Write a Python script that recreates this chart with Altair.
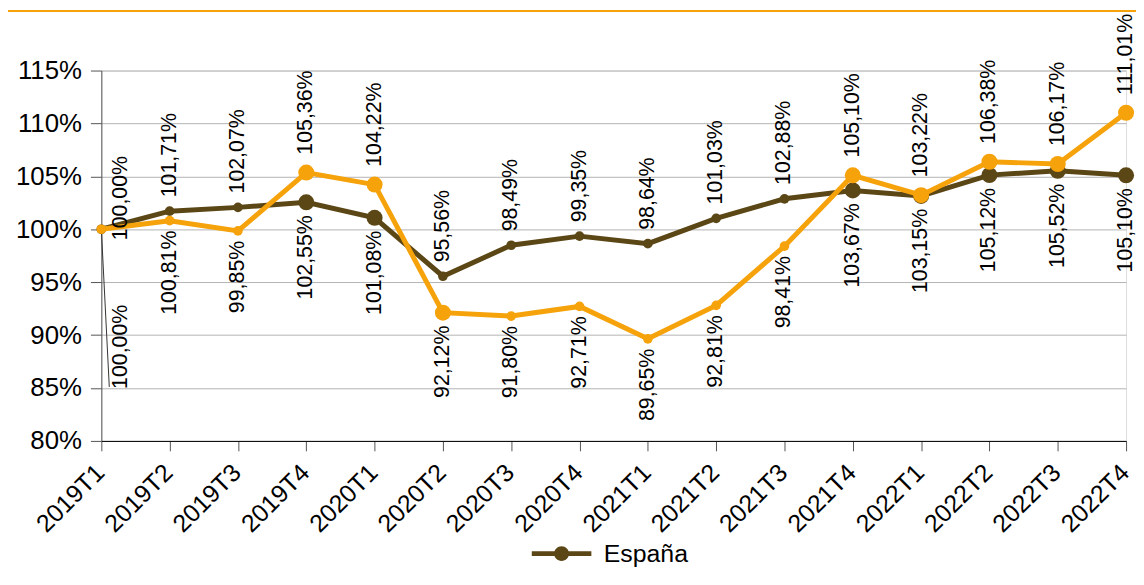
import altair as alt
import pandas as pd

# ---- data ----
quarters = ["2019T1", "2019T2", "2019T3", "2019T4",
            "2020T1", "2020T2", "2020T3", "2020T4",
            "2021T1", "2021T2", "2021T3", "2021T4",
            "2022T1", "2022T2", "2022T3", "2022T4"]
espana = [100.00, 101.71, 102.07, 102.55, 101.08, 95.56, 98.49, 99.35,
          98.64, 101.03, 102.88, 103.67, 103.15, 105.12, 105.52, 105.10]
region = [100.00, 100.81, 99.85, 105.36, 104.22, 92.12, 91.80, 92.71,
          89.65, 92.81, 98.41, 105.10, 103.22, 106.38, 106.17, 111.01]
series_names = ["España", "Comunidad"]
y_ticks = [80, 85, 90, 95, 100, 105, 110, 115]
# quarters drawn with the larger marker
big_espana = ["2019T4", "2020T1", "2021T4", "2022T1", "2022T2", "2022T3", "2022T4"]
big_region = ["2019T4", "2020T1", "2020T2", "2021T4", "2022T1", "2022T2", "2022T3", "2022T4"]

BROWN = "#5b4615"
ORANGE = "#f5a20b"
FONT = "Liberation Sans"

rows = []
for i, q in enumerate(quarters):
    e, r = espana[i], region[i]
    for name, v, other, bigs in ((series_names[0], e, r, big_espana),
                                 (series_names[1], r, e, big_region)):
        if i == 0:
            pos = "first_above" if name == series_names[0] else "first_below"
        else:
            pos = "above" if v > other else "below"
        rows.append({
            "trimestre": q,
            "serie": name,
            "valor": v,
            "marker": "big" if q in bigs else "small",
            "pos": pos,
            "etiqueta": f"{v:.2f}".replace(".", ",") + "%",
        })
df = pd.DataFrame(rows)

x_enc = alt.X("trimestre:N", sort=quarters,
              scale=alt.Scale(type="point", padding=0),
              axis=alt.Axis(title=None, labelAngle=-45, labelFontSize=25,
                            labelFont=FONT, labelColor="#000", labelPadding=9,
                            labelOffset=-10,
                            tickSize=10, tickColor="#555", domainColor="#000",
                            grid=False, labelOverlap=False))
y_enc = alt.Y("valor:Q",
              scale=alt.Scale(domain=[80, 115], nice=False, zero=False),
              axis=alt.Axis(title=None, values=y_ticks, labelExpr="datum.value + '%'",
                            labelFontSize=26, labelFont=FONT, labelColor="#000",
                            labelPadding=9, tickSize=11, tickColor="#555",
                            domainColor="#555", gridColor="#b3b3b3"))
color_scale = alt.Scale(domain=series_names, range=[BROWN, ORANGE])
size_enc = alt.Size("marker:N", scale=alt.Scale(domain=["small", "big"], range=[95, 260]),
                    legend=None)

# line + dot legend glyph (drawn in units of sqrt(size)/2)
legend_path = ("M-3,-0.25H3V0.25H-3Z"
               "M0.75,0A0.75,0.75,0,1,1,-0.75,0A0.75,0.75,0,1,1,0.75,0Z")
legend = alt.Legend(orient="none", legendX=451, legendY=474, title=None,
                    values=[series_names[0]], symbolType=legend_path,
                    symbolSize=400, symbolStrokeWidth=0, symbolFillColor=BROWN,
                    symbolOpacity=1, labelFontSize=25, labelFont=FONT,
                    labelColor="#000", labelOffset=30, padding=0)
color_enc = alt.Color("serie:N", scale=color_scale, legend=legend)

base = alt.Chart(df)


def series_layers(name):
    d = base.transform_filter(alt.datum.serie == name)
    line = d.mark_line(strokeWidth=5).encode(x=x_enc, y=y_enc, color=color_enc)
    pts = d.mark_circle(opacity=1).encode(x=x_enc, y=y_enc, size=size_enc, color=color_enc)
    return [line, pts]


def label_layer(pos, marker, align, dx, dy=0):
    cond = (alt.datum.pos == pos)
    if marker is not None:
        cond = cond & (alt.datum.marker == marker)
    return base.transform_filter(cond).mark_text(
        angle=270, align=align, baseline="middle", dx=dx, dy=dy,
        fontSize=21.5, font=FONT, color="#000"
    ).encode(x=x_enc, y=y_enc, text="etiqueta:N")


labels = [
    label_layer("above", "small", "left", 14),
    label_layer("above", "big", "left", 18),
    label_layer("below", "small", "right", -10),
    label_layer("below", "big", "right", -13),
    label_layer("first_above", None, "left", -11, 20),
    label_layer("first_below", None, "right", -76, 20),
]

leader_df = pd.DataFrame({"trimestre": [quarters[0]], "valor": [espana[0]], "fin": [85.1]})
leader = alt.Chart(leader_df).mark_rule(color="#333", strokeWidth=1, x2Offset=8).encode(
    x=x_enc, x2="trimestre:N", y=y_enc, y2="fin:Q")

top_rule = alt.Chart(leader_df).mark_rule(color=ORANGE, strokeWidth=2).encode(
    x=alt.value(-94), x2=alt.value(1042), y=alt.value(-60))

chart = alt.layer(
    top_rule,
    leader,
    *series_layers(series_names[0]),
    *series_layers(series_names[1]),
    *labels,
).properties(
    width=1032, height=373,
    padding={"left": 94, "top": 61, "right": 10, "bottom": 126},
    autosize=alt.AutoSizeParams(type="none"),
).configure_view(stroke="#c8c8c8").configure(background="white")

chart.save("out.html", embed_options={"renderer": "svg", "actions": False})
